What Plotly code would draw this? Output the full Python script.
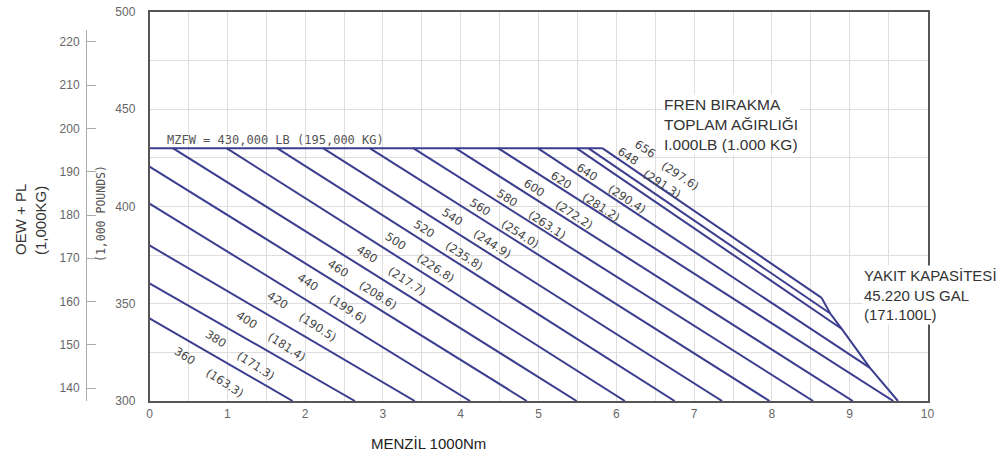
import plotly.graph_objects as go

# Brake-release gross weight of each line (1,000 lb) and the kg figure printed beside it
tow_lb = [360, 380, 400, 420, 440, 460, 480, 500, 520, 540, 560, 580, 600, 620, 640, 648, 656]
tow_kg = ["163.3", "171.3", "181.4", "190.5", "199.6", "208.6", "217.7", "226.8", "235.8",
          "244.9", "254.0", "263.1", "272.2", "281.2", "290.4", "291.3", "297.6"]

# Start of each line: range (1000 nm) and OEW + PL (1,000 lb)
start_range = [0, 0, 0, 0, 0, 0.30, 0.99, 1.64, 2.23, 2.83, 3.39, 3.93, 4.48, 4.99, 5.49, 5.64, 5.82]
start_zfw = [342.5, 360.5, 380, 401.5, 420.5, 430, 430, 430, 430, 430, 430, 430, 430, 430, 430, 430, 430]

# End of each line: on the 300 floor or on the fuel-capacity limit
end_range = [1.84, 2.64, 3.41, 4.12, 4.85, 5.49, 6.11, 6.75, 7.36, 7.97, 8.53, 9.04, 9.56, 9.26, 8.90, 8.75, 8.64]
end_zfw = [300, 300, 300, 300, 300, 300, 300, 300, 300, 300, 300, 300, 300, 317, 337, 345, 353]

# Maximum zero fuel weight (1,000 lb)
mzfw_lb = 430

# Fuel-capacity limit (45,220 US gal)
fuel_cap_range = [8.64, 8.75, 8.90, 9.26, 9.62]
fuel_cap_zfw = [353, 345, 337, 317, 300]

# Axis ticks
range_ticks = [0, 1, 2, 3, 4, 5, 6, 7, 8, 9, 10]
lb_ticks = [300, 350, 400, 450, 500]
kg_ticks = [140, 150, 160, 170, 180, 190, 200, 210, 220]

W, H = 1006, 453
LINE_COLOR = "#3b3d8e"
GRID_COLOR = "#dedede"
TICK_FONT = dict(family="Liberation Sans, Arial, sans-serif", size=12, color="#666666")
TEXT_FONT = "Liberation Sans, Arial, sans-serif"


def px(xp):
    return xp / W


def py(yp):
    return 1 - yp / H


def y_on_line(i, x):
    x0, x1 = start_range[i], end_range[i]
    y0, y1 = start_zfw[i], end_zfw[i]
    return y0 + (y1 - y0) * (x - x0) / (x1 - x0)


fig = go.Figure()

# Constant gross-weight lines
for i in range(len(tow_lb)):
    fig.add_trace(go.Scatter(
        x=[start_range[i], end_range[i]], y=[start_zfw[i], end_zfw[i]],
        mode="lines", line=dict(color=LINE_COLOR, width=2),
        hoverinfo="skip", showlegend=False))

# MZFW limit
fig.add_trace(go.Scatter(
    x=[0, start_range[-1]], y=[mzfw_lb, mzfw_lb],
    mode="lines", line=dict(color=LINE_COLOR, width=2),
    hoverinfo="skip", showlegend=False))

# Fuel-capacity limit
fig.add_trace(go.Scatter(
    x=fuel_cap_range, y=fuel_cap_zfw,
    mode="lines", line=dict(color=LINE_COLOR, width=2),
    hoverinfo="skip", showlegend=False))

# Carrier trace for the kg scale (on its own hidden x axis)
fig.add_trace(go.Scatter(x=[None], y=[None], xaxis="x2", yaxis="y2",
                         hoverinfo="skip", showlegend=False))

annotations = []

# Weight labels along the lines: a gently curving band, the two top lines labelled above
label_override = {
    648: dict(x=6.15, tow=(0, 19), kg=(34, -9)),
    656: dict(x=6.37, tow=(0, 28), kg=(35, 1)),
}
lab_font = dict(family="DejaVu Sans, sans-serif", size=11.5, color="#444444")
for i, w in enumerate(tow_lb):
    if w in label_override:
        o = label_override[w]
        ax, tow_shift, kg_shift = o["x"], o["tow"], o["kg"]
    else:
        ax = 0.456 + 0.405 * i - 0.00257 * i * i
        tow_shift, kg_shift = (0, -17), (40, -44)
    ay = y_on_line(i, ax)
    annotations.append(dict(x=ax, y=ay, xref="x", yref="y", text=str(w), showarrow=False,
                            textangle=33, font=lab_font,
                            xshift=tow_shift[0], yshift=tow_shift[1]))
    annotations.append(dict(x=ax, y=ay, xref="x", yref="y", text="(" + tow_kg[i] + ")",
                            showarrow=False, textangle=33, font=lab_font,
                            xshift=kg_shift[0], yshift=kg_shift[1]))

annotations += [
    dict(x=px(165), y=py(140), xref="paper", yref="paper", xanchor="left", yanchor="middle",
         text="MZFW = 430,000 LB (195,000 KG)", showarrow=False,
         font=dict(family="DejaVu Sans Mono, monospace", size=12, color="#555555")),
    dict(x=px(662), y=py(124), xref="paper", yref="paper", xanchor="left", yanchor="middle",
         text="FREN BIRAKMA<br>TOPLAM AĞIRLIĞI<br>I.000LB (1.000 KG)", align="left",
         showarrow=False, bgcolor="white",
         font=dict(family=TEXT_FONT, size=15.5, color="#333333")),
    dict(x=px(862), y=py(295), xref="paper", yref="paper", xanchor="left", yanchor="middle",
         text="YAKIT KAPASİTESİ<br>45.220 US GAL<br>(171.100L)", align="left",
         showarrow=False, bgcolor="white",
         font=dict(family=TEXT_FONT, size=15, color="#333333")),
    dict(x=px(428), y=py(443), xref="paper", yref="paper", xanchor="center", yanchor="middle",
         text="MENZİL 1000Nm", showarrow=False,
         font=dict(family=TEXT_FONT, size=15, color="#222222")),
    dict(x=px(101), y=py(214), xref="paper", yref="paper", xanchor="center", yanchor="middle",
         text="(1,000 POUNDS)", showarrow=False, textangle=-90,
         font=dict(family="DejaVu Sans Mono, monospace", size=11.5, color="#555555")),
    dict(x=px(30), y=py(220), xref="paper", yref="paper", xanchor="center", yanchor="middle",
         text="OEW + PL<br>(1,000KG)", showarrow=False, textangle=-90, align="left",
         font=dict(family=TEXT_FONT, size=15, color="#333333")),
]

fig.update_layout(
    width=W, height=H,
    margin=dict(l=0, r=0, t=0, b=0),
    paper_bgcolor="white", plot_bgcolor="rgba(0,0,0,0)",
    showlegend=False,
    xaxis=dict(
        domain=[px(149.5), px(927.5)], range=[0, 10], anchor="y",
        tickvals=range_ticks, ticks="", ticklabelstandoff=1,
        tickfont=TICK_FONT,
        showgrid=True, gridcolor=GRID_COLOR, gridwidth=1,
        minor=dict(dtick=0.5, showgrid=True, gridcolor=GRID_COLOR, gridwidth=1),
        showline=True, mirror=True, linecolor="#555555", linewidth=1.5,
        zeroline=False, automargin=False),
    yaxis=dict(
        domain=[py(401), py(12)], range=[300, 500], anchor="x",
        tickvals=lb_ticks, ticks="", ticklabelstandoff=10,
        tickfont=TICK_FONT,
        showgrid=True, gridcolor=GRID_COLOR, gridwidth=1,
        minor=dict(dtick=25, showgrid=True, gridcolor=GRID_COLOR, gridwidth=1),
        showline=True, mirror=True, linecolor="#555555", linewidth=1.5,
        zeroline=False, automargin=False),
    xaxis2=dict(domain=[px(149.5), px(927.5)], range=[0, 10], anchor="y2",
                visible=False, showgrid=False, zeroline=False),
    yaxis2=dict(
        domain=[py(401), py(30)], range=[137.0, 222.77], anchor="free",
        position=px(86), side="left",
        tickvals=kg_ticks, ticks="inside", ticklen=9, tickcolor="#aaaaaa", tickwidth=1,
        ticklabelstandoff=4, tickfont=TICK_FONT,
        showgrid=False, zeroline=False,
        showline=True, linecolor="#aaaaaa", linewidth=1, automargin=False),
    annotations=annotations,
)

fig.write_html("out.html")
